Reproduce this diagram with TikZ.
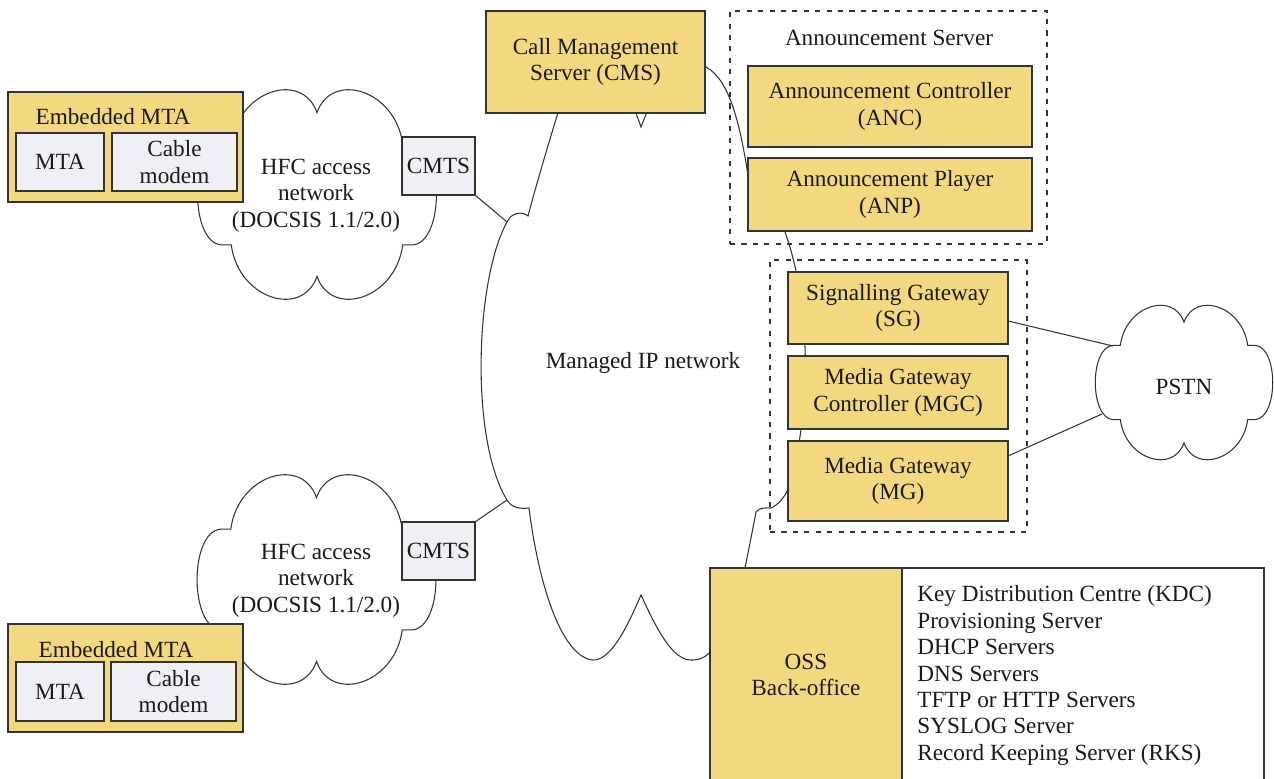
\documentclass[tikz,border=0pt]{standalone}
\usepackage{fontspec}
\setmainfont{Liberation Serif}
\usetikzlibrary{calc}

\definecolor{boxyellow}{HTML}{F3D880}
\definecolor{boxgrey}{HTML}{EFF0F3}
\definecolor{edge}{HTML}{333333}
\definecolor{ink}{HTML}{1A1A1A}

\tikzset{
  every node/.style={font=\fontsize{13.2}{15}\selectfont, text=ink},
  yellowbox/.style={draw=edge, fill=boxyellow, line width=0.75pt, inner sep=0pt, align=center},
  greybox/.style={draw=edge, fill=boxgrey, line width=0.75pt, inner sep=0pt, align=center},
  whitebox/.style={draw=edge, fill=white, line width=0.75pt, inner sep=0pt},
  groupbox/.style={draw=edge, line width=0.7pt, dash pattern=on 2.9pt off 3.6pt, inner sep=0pt},
  wire/.style={draw=edge, line width=0.6pt},
  plaintext/.style={inner sep=0pt, align=center, yshift=-0.05cm},
  % unit cloud with six puffs, spanning roughly [-1,1] x [-1,1]
  pics/puffcloud/.style={code={
    \draw[wire] (-0.70,0.48)
      .. controls (-0.64,1.00) and (-0.12,1.18) .. (0,0.78)
      .. controls (0.12,1.18) and (0.64,1.00) .. (0.70,0.48)
      -- (0.78,0.48)
      .. controls (1.04,0.46) and (1.04,-0.46) .. (0.78,-0.48)
      -- (0.70,-0.48)
      .. controls (0.64,-1.00) and (0.12,-1.18) .. (0,-0.78)
      .. controls (-0.12,-1.18) and (-0.64,-1.00) .. (-0.70,-0.48)
      -- (-0.78,-0.48)
      .. controls (-1.04,-0.46) and (-1.04,0.46) .. (-0.78,0.48)
      -- cycle;
  }},
}

\begin{document}
\begin{tikzpicture}[x=0.02cm, y=-0.02cm]
  \useasboundingbox (0,0) rectangle (1274,778);
  \fill[white] (0,0) rectangle (1274,778);
  \clip (0,0) rectangle (1274,778);

  % managed IP network cloud (partly covered by the boxes drawn later)
  \draw[wire] (641,127)
    .. controls (630,95) and (600,25) .. (580,40)
    .. controls (562,100) and (540,170) .. (528,216)
    .. controls (522,211) and (512,212) .. (507,222)
    .. controls (475,280) and (470,440) .. (507,500)
    .. controls (512,508) and (520,509) .. (529,508)
    .. controls (538,580) and (560,655) .. (592,660)
    .. controls (612,662) and (630,620) .. (641,595)
    .. controls (655,625) and (672,662) .. (693,660)
    .. controls (700,660) and (706,657) .. (712,650)
    .. controls (735,620) and (742,585) .. (745,568)
    .. controls (749,548) and (753,528) .. (756,512)
    .. controls (760,507) and (766,508) .. (771,508)
    .. controls (778,505) and (785,497) .. (789,487)
    .. controls (803,440) and (808,380) .. (804,330)
    .. controls (801,290) and (795,260) .. (785,232)
    .. controls (775,205) and (752,195) .. (748,175)
    .. controls (740,125) and (730,80) .. (706,67)
    .. controls (685,30) and (655,90) .. (641,127) -- cycle;
  \coordinate (ipNW) at (507,222);
  \coordinate (ipSW) at (507,500);

  % access network clouds and PSTN cloud
  \pic[shift={(317,194.5)}, xscale=122.5, yscale=-105] {puffcloud};
  \pic[shift={(316.5,579.5)}, xscale=122.5, yscale=-105] {puffcloud};
  \pic[shift={(1184,382.5)}, xscale=91, yscale=-77.4] {puffcloud};
  \coordinate (pstnNW) at (1113,346);
  \coordinate (pstnSW) at (1102,414);

  % dashed groupings
  \node[groupbox, minimum width=6.34cm, minimum height=4.66cm] (anngroup) at (888.5,127.5) {};
  \node[groupbox, minimum width=5.14cm, minimum height=5.44cm] (gwgroup) at (898.5,396) {};
  \node[plaintext] (anntitle) at (889,35) {Announcement Server};

  % embedded MTAs
  \node[yellowbox, minimum width=4.70cm, minimum height=2.20cm] (emtaA) at (125.5,147) {};
  \node[plaintext] (emtaAtitle) at (113,114) {Embedded MTA};
  \node[greybox, minimum width=1.76cm, minimum height=1.16cm] (mtaA) at (60,162) {MTA};
  \node[greybox, minimum width=2.50cm, minimum height=1.16cm] (cmA) at (174.5,162) {Cable\\modem};

  \node[yellowbox, minimum width=4.70cm, minimum height=2.16cm] (emtaB) at (125.5,678) {};
  \node[plaintext] (emtaBtitle) at (116,647) {Embedded MTA};
  \node[greybox, minimum width=1.76cm, minimum height=1.18cm] (mtaB) at (60,691.5) {MTA};
  \node[greybox, minimum width=2.50cm, minimum height=1.18cm] (cmB) at (173.5,691.5) {Cable\\modem};

  % access network labels
  \node[plaintext] (hfcA) at (316,193) {HFC access\\network\\(DOCSIS 1.1/2.0)};
  \node[plaintext] (hfcB) at (316,578) {HFC access\\network\\(DOCSIS 1.1/2.0)};

  % CMTS links into the managed network
  \draw[wire] (475,195) -- (ipNW);
  \draw[wire] (475,522) -- (ipSW);
  \node[greybox, minimum width=1.46cm, minimum height=1.16cm] (cmtsA) at (438.5,166) {CMTS};
  \node[greybox, minimum width=1.46cm, minimum height=1.16cm] (cmtsB) at (438.5,551) {CMTS};

  \node[plaintext] (iplabel) at (643,360) {Managed IP network};

  % call management and announcement servers
  \node[yellowbox, minimum width=4.38cm, minimum height=2.04cm] (cms) at (595.5,62) {Call Management\\Server (CMS)};
  \node[yellowbox, minimum width=5.68cm, minimum height=1.62cm] (anc) at (890,106.5) {Announcement Controller\\(ANC)};
  \node[yellowbox, minimum width=5.68cm, minimum height=1.46cm] (anp) at (890,194.5) {Announcement Player\\(ANP)};

  % gateways and PSTN
  \draw[wire] (1008,321) -- (pstnNW);
  \draw[wire] (1008,456) -- (pstnSW);
  \node[yellowbox, minimum width=4.40cm, minimum height=1.44cm] (sg) at (898,308) {Signalling Gateway\\(SG)};
  \node[yellowbox, minimum width=4.40cm, minimum height=1.46cm] (mgc) at (898,392.5) {Media Gateway\\Controller (MGC)};
  \node[yellowbox, minimum width=4.40cm, minimum height=1.60cm] (mg) at (898,481) {Media Gateway\\(MG)};
  \node[plaintext] (pstn) at (1184,384) {PSTN};

  % OSS back-office
  \node[yellowbox, minimum width=3.84cm, minimum height=4.28cm] (oss) at (806,675) {OSS\\Back-office};
  \node[whitebox, minimum width=7.24cm, minimum height=4.28cm] (osslist) at (1083,675) {};
  \node[plaintext, align=left, anchor=west] (ossitems) at (917,673)
    {Key Distribution Centre (KDC)\\Provisioning Server\\DHCP Servers\\DNS Servers\\TFTP or HTTP Servers\\SYSLOG Server\\Record Keeping Server (RKS)};
\end{tikzpicture}
\end{document}
